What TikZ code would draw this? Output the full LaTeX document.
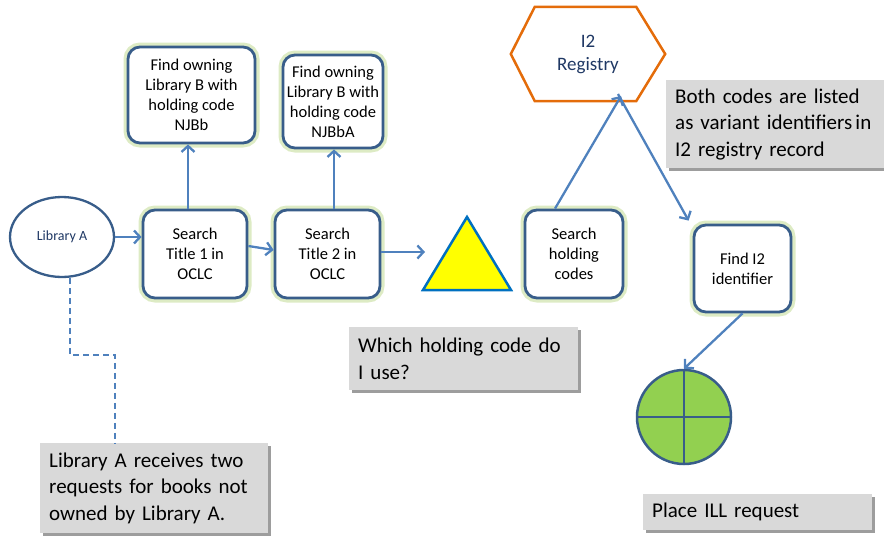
\documentclass[tikz,border=0pt]{standalone}
\usepackage{fontspec}
\setmainfont{Carlito}
\usetikzlibrary{arrows.meta,shadows,shapes.geometric,calc}
\definecolor{boxblue}{HTML}{385D8A}
\definecolor{arrblue}{HTML}{4F81BD}
\definecolor{glow}{HTML}{DDEBC4}
\definecolor{calgray}{HTML}{D9D9D9}
\definecolor{hexorange}{HTML}{E46C0A}
\definecolor{trifill}{HTML}{FFFF00}
\definecolor{tristroke}{HTML}{0070C0}
\definecolor{ballgreen}{HTML}{92D050}
\definecolor{navy}{HTML}{1F3864}
\begin{document}
\begin{tikzpicture}[x=1pt,y=-1pt,
  stepbox/.style={draw=boxblue, line width=2.8pt, rounded corners=12pt, fill=white,
    align=center, font=\fontsize{16.5}{20}\selectfont, inner sep=0pt,
    preaction={draw=glow, line width=9pt}},
  arr/.style={draw=arrblue, line width=2.3pt, -{Straight Barb[length=6pt,width=13pt]}},
  callout/.style={fill=calgray, anchor=north west, align=left, inner xsep=9pt, inner ysep=0pt,
    font=\fontsize{21}{26.5}\selectfont,
    drop shadow={shadow xshift=2.5pt, shadow yshift=-3pt, fill=black!55, opacity=0.7}},
]
\useasboundingbox (0,0) rectangle (884,536);

% Library A
\node[ellipse, draw=boxblue, line width=2.3pt, minimum width=104, minimum height=80,
  font=\fontsize{14}{16}\selectfont, text=navy, fill=white] (lib) at (62,237) {Library A};

% step boxes
\node[stepbox, minimum width=104, minimum height=88] (s1) at (195,254) {Search\\Title 1 in\\OCLC};
\node[stepbox, minimum width=105, minimum height=88] (s2) at (327.5,254) {Search\\Title 2 in\\OCLC};
\node[stepbox, minimum width=127, minimum height=96] (b1) at (191.5,95) {Find owning\\Library B with\\holding code\\NJBb};
\node[stepbox, minimum width=100, minimum height=93] (b2) at (333,101.5) {Find owning\\Library B with\\holding code\\NJBbA};
\node[stepbox, minimum width=98, minimum height=88] (hold) at (574,254) {Search\\holding\\codes};
\node[stepbox, minimum width=97, minimum height=87] (fi) at (742.5,268.5) {Find I2\\identifier};

% triangle
\coordinate (triA) at (467,217);
\coordinate (triL) at (423,290);
\coordinate (triR) at (511,290);
\draw[tristroke, fill=trifill, line width=2.5pt, line join=miter] (triA) -- (triR) -- (triL) -- cycle;
\coordinate (triin) at (425,252);

% hexagon
\node[minimum width=154, minimum height=94, align=center, text=navy,
  font=\fontsize{19}{23}\selectfont] (reg) at (588,54) {I2\\Registry};
\draw[hexorange, line width=2.5pt, line join=miter]
  (reg.west) -- ([xshift=24pt]reg.north west) -- ([xshift=-29pt]reg.north east) -- (reg.east)
  -- ([xshift=-29pt]reg.south east) -- ([xshift=24pt]reg.south west) -- cycle;
\coordinate (regin) at (621,96);

% green ball
\node[circle, draw=boxblue, fill=ballgreen, line width=2.5pt, minimum size=94, inner sep=0pt] (ball) at (684,417) {};
\draw[boxblue, line width=2.5pt] (ball.north) -- (ball.south) (ball.west) -- (ball.east);

% callouts
\node[callout, text width=210, minimum height=90] (cA) at (40,443)
  {Library A receives two\\requests for books not\\owned by Library A.};
\node[callout, text width=211, minimum height=63] (cW) at (349,327)
  {Which holding code do\\I use?};
\node[callout, text width=225, minimum height=88] (cB) at (666,80)
  {Both codes are listed\\as variant identifiers\hspace{0.15em}in\\I2 registry record};
\node[callout, text width=211, minimum height=36] (cP) at (643,494)
  {Place ILL request};

% connectors
\draw[arr] (lib.east) -- (s1.west |- lib.east);
\draw[arr] ([yshift=8pt]s1.east) -- ([yshift=4pt]s2.west);
\draw[arr] ([yshift=2pt]s2.east) -- (triin);
\draw[arr] ([xshift=-7pt]s1.north) -- ([xshift=-7pt]s1.north |- b1.south);
\draw[arr] ([xshift=6.5pt]s2.north) -- ([xshift=6.5pt]s2.north |- b2.south);
\draw[arr] ([xshift=-19pt]hold.north) -- (regin);
\draw[arr] ([xshift=-3pt,yshift=2pt]regin) -- ([xshift=-4pt,yshift=3pt]fi.north west);
\draw[arr] (fi.south) -- (ball.north);
\draw[arrblue, line width=2.3pt, dash pattern=on 6pt off 4pt]
  ([xshift=8pt]lib.south) |- ([xshift=-39pt,yshift=88pt]cA.north) -- ([xshift=-39pt]cA.north);
\end{tikzpicture}
\end{document}
